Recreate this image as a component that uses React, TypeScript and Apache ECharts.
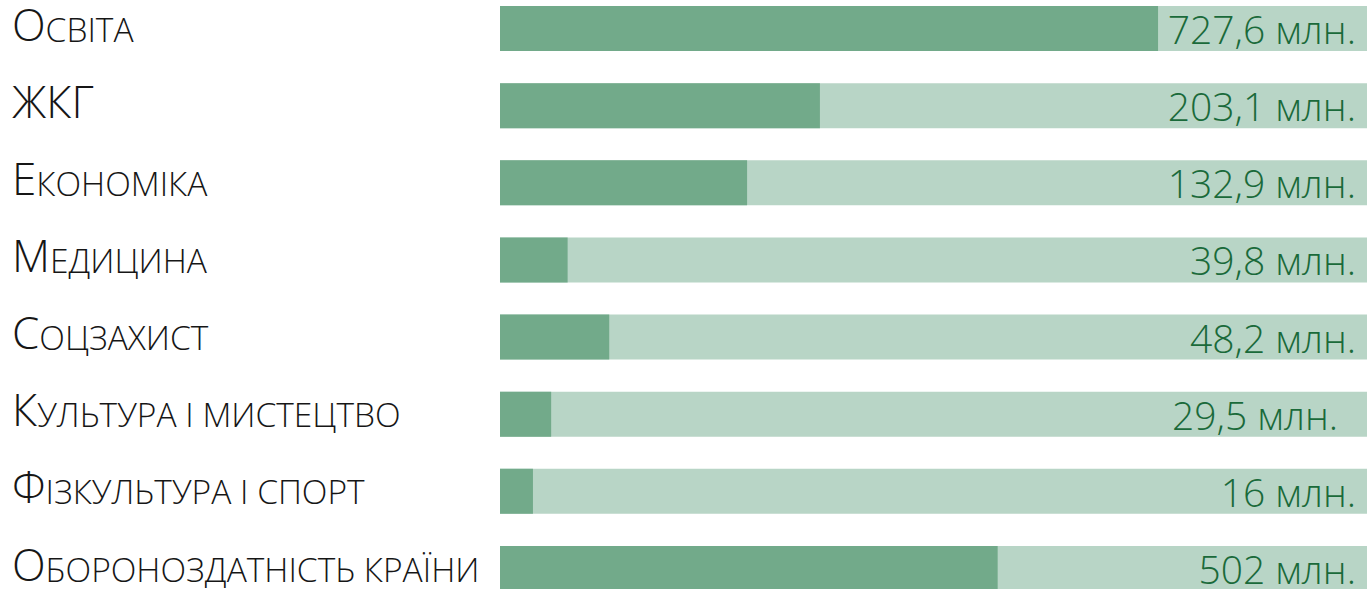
import React, { useEffect, useRef } from "react";
import * as echarts from "echarts";

const categories = [
  "Освіта",
  "ЖКГ",
  "Економіка",
  "Медицина",
  "Соцзахист",
  "Культура і мистецтво",
  "Фізкультура і спорт",
  "Обороноздатність країни",
];
// share of the full bar (percent)
const shares = [75.9, 36.9, 28.5, 7.8, 12.6, 5.9, 3.8, 57.4];
const fullValues = [100, 100, 100, 100, 100, 100, 100, 100];
const valueLabels = [
  "727,6 млн.",
  "203,1 млн.",
  "132,9 млн.",
  "39,8 млн.",
  "48,2 млн.",
  "29,5 млн.",
  "16 млн.",
  "502 млн.",
];

const FONT = "'Open Sans', 'Noto Sans', sans-serif";

function smallCaps(s: string): string {
  let out = "";
  let cur = "";
  let curType = "";
  const flush = () => {
    if (cur) out += `{${curType}|${cur}}`;
    cur = "";
  };
  for (const ch of s) {
    const isUpper = ch !== ch.toLowerCase() && ch === ch.toUpperCase();
    const t = isUpper ? "big" : "sm";
    if (t !== curType) {
      flush();
      curType = t;
    }
    cur += ch.toUpperCase();
  }
  flush();
  return out;
}

export default function App() {
  const ref = useRef<HTMLDivElement>(null);
  useEffect(() => {
    document.body.style.margin = "0";
    const chart = echarts.init(ref.current!, null, { renderer: "svg" });
    chart.setOption({
      animation: false,
      grid: {
        left: 500,
        right: 0,
        top: -10,
        bottom: -18,
        containLabel: false,
        outerBoundsMode: "none",
      },
      xAxis: { type: "value", min: 0, max: 100, show: false },
      yAxis: {
        type: "category",
        data: categories,
        inverse: true,
        axisLine: { show: false },
        axisTick: { show: false },
        axisLabel: {
          align: "left",
          margin: 488,
          formatter: (v: string) => smallCaps(v),
          rich: {
            big: {
              fontFamily: FONT,
              fontWeight: 300,
              fontSize: 44,
              color: "#161616",
              lineHeight: 34.1,
              verticalAlign: "bottom",
            },
            sm: {
              fontFamily: FONT,
              fontWeight: 300,
              fontSize: 33.5,
              color: "#161616",
              lineHeight: 26,
              verticalAlign: "bottom",
            },
          },
        },
      },
      series: [
        {
          type: "bar",
          data: fullValues.map((v, i) => ({
            value: v,
            label: i === 5 ? { offset: [-18, 0] } : undefined,
          })),
          barWidth: 45,
          barGap: "-100%",
          itemStyle: { color: "#b8d5c6" },
          label: {
            show: true,
            position: "insideRight",
            distance: 11,
            formatter: (p: any) => valueLabels[p.dataIndex],
            fontFamily: FONT,
            fontWeight: 350,
            fontSize: 39,
            color: "#1a6a3a",
          },
          silent: true,
          z: 1,
        },
        {
          type: "bar",
          data: shares,
          barWidth: 45,
          barGap: "-100%",
          itemStyle: { color: "#72aa8a" },
          silent: true,
          z: 2,
        },
      ],
    });
    return () => chart.dispose();
  }, []);
  return (
    <div
      ref={ref}
      style={{ position: "absolute", left: 0, top: 0, width: 1367, height: 589 }}
    />
  );
}
